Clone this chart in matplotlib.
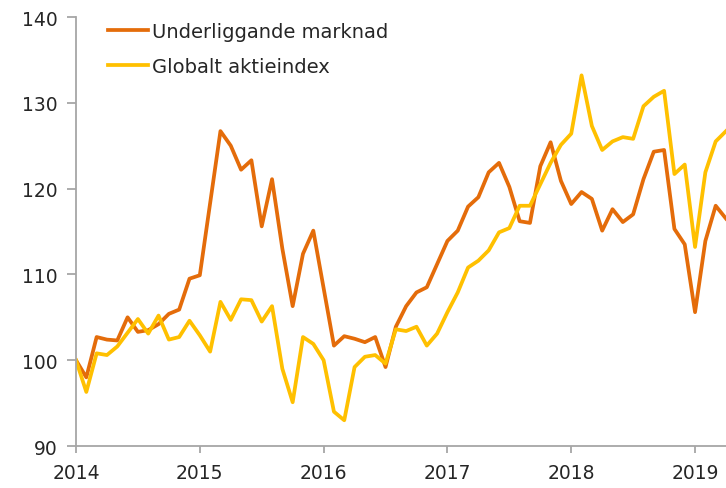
import numpy as np
import matplotlib
matplotlib.use("Agg")
import matplotlib.pyplot as plt

# monthly index values, Jan 2014 = 100
underliggande = [100.0, 98.0, 102.7, 102.4, 102.3, 105.0, 103.3, 103.5, 104.2, 105.4,
                 105.9, 109.5, 109.9, 118.3, 126.7, 125.0, 122.2, 123.3, 115.6, 121.1,
                 113.0, 106.3, 112.4, 115.1, 108.4, 101.7, 102.8, 102.5, 102.1, 102.7,
                 99.2, 103.9, 106.3, 107.9, 108.5, 111.2, 113.9, 115.1, 117.9, 119.0,
                 121.9, 123.0, 120.2, 116.2, 116.0, 122.6, 125.4, 120.9, 118.2, 119.6,
                 118.8, 115.1, 117.6, 116.1, 117.0, 121.1, 124.3, 124.5, 115.3, 113.5,
                 105.6, 113.9, 118.0, 116.5]
globalt = [100.0, 96.3, 100.8, 100.6, 101.6, 103.2, 104.8, 103.1, 105.2, 102.4,
           102.7, 104.6, 102.9, 101.0, 106.8, 104.7, 107.1, 107.0, 104.5, 106.3,
           99.0, 95.1, 102.7, 101.9, 100.0, 94.0, 93.0, 99.2, 100.4, 100.6,
           99.6, 103.6, 103.4, 103.9, 101.7, 103.1, 105.6, 107.9, 110.8, 111.6,
           112.8, 114.9, 115.4, 118.0, 118.0, 120.5, 123.0, 125.1, 126.4, 133.2,
           127.3, 124.5, 125.5, 126.0, 125.8, 129.6, 130.7, 131.4, 121.7, 122.8,
           113.2, 121.9, 125.5, 126.7]
years = [2014, 2015, 2016, 2017, 2018, 2019]
labels = ["Underliggande marknad", "Globalt aktieindex"]

x = 2014 + np.arange(len(underliggande)) / 12.0

plt.rcParams['font.family'] = ['DejaVu Sans']
fig = plt.figure(figsize=(7.26, 4.89), dpi=100)
ax = fig.add_axes([76/726, 42/489, 650/726, 429/489])

ax.plot(x, underliggande, color='#E46C0A', lw=2.7, label=labels[0], solid_joinstyle='round')
ax.plot(x, globalt, color='#FFC000', lw=2.7, label=labels[1], solid_joinstyle='round')

ax.set_xlim(2014, x[-1])
ax.set_ylim(90, 140)
ax.set_xticks(years)
ax.set_yticks(np.arange(90, 141, 10))

for s in ['top', 'right']:
    ax.spines[s].set_visible(False)
for s in ['left', 'bottom']:
    ax.spines[s].set_color('#A6A6A6')
    ax.spines[s].set_linewidth(1.3)
ax.tick_params(axis='y', length=6.5, width=1.3, color='#A6A6A6', pad=7,
               labelsize=13.5, labelcolor='#262626')
ax.tick_params(axis='x', length=5, width=1.3, color='#A6A6A6', pad=7,
               labelsize=13.5, labelcolor='#262626')

leg = ax.legend(loc='upper left', bbox_to_anchor=(108/726, 1 - 23/489),
                bbox_transform=fig.transFigure, frameon=False, fontsize=14,
                handlelength=2.05, handletextpad=0.22, labelspacing=0.8,
                borderaxespad=0, borderpad=0)
for t in leg.get_texts():
    t.set_color('#262626')

fig.savefig('out.png', dpi=100)
